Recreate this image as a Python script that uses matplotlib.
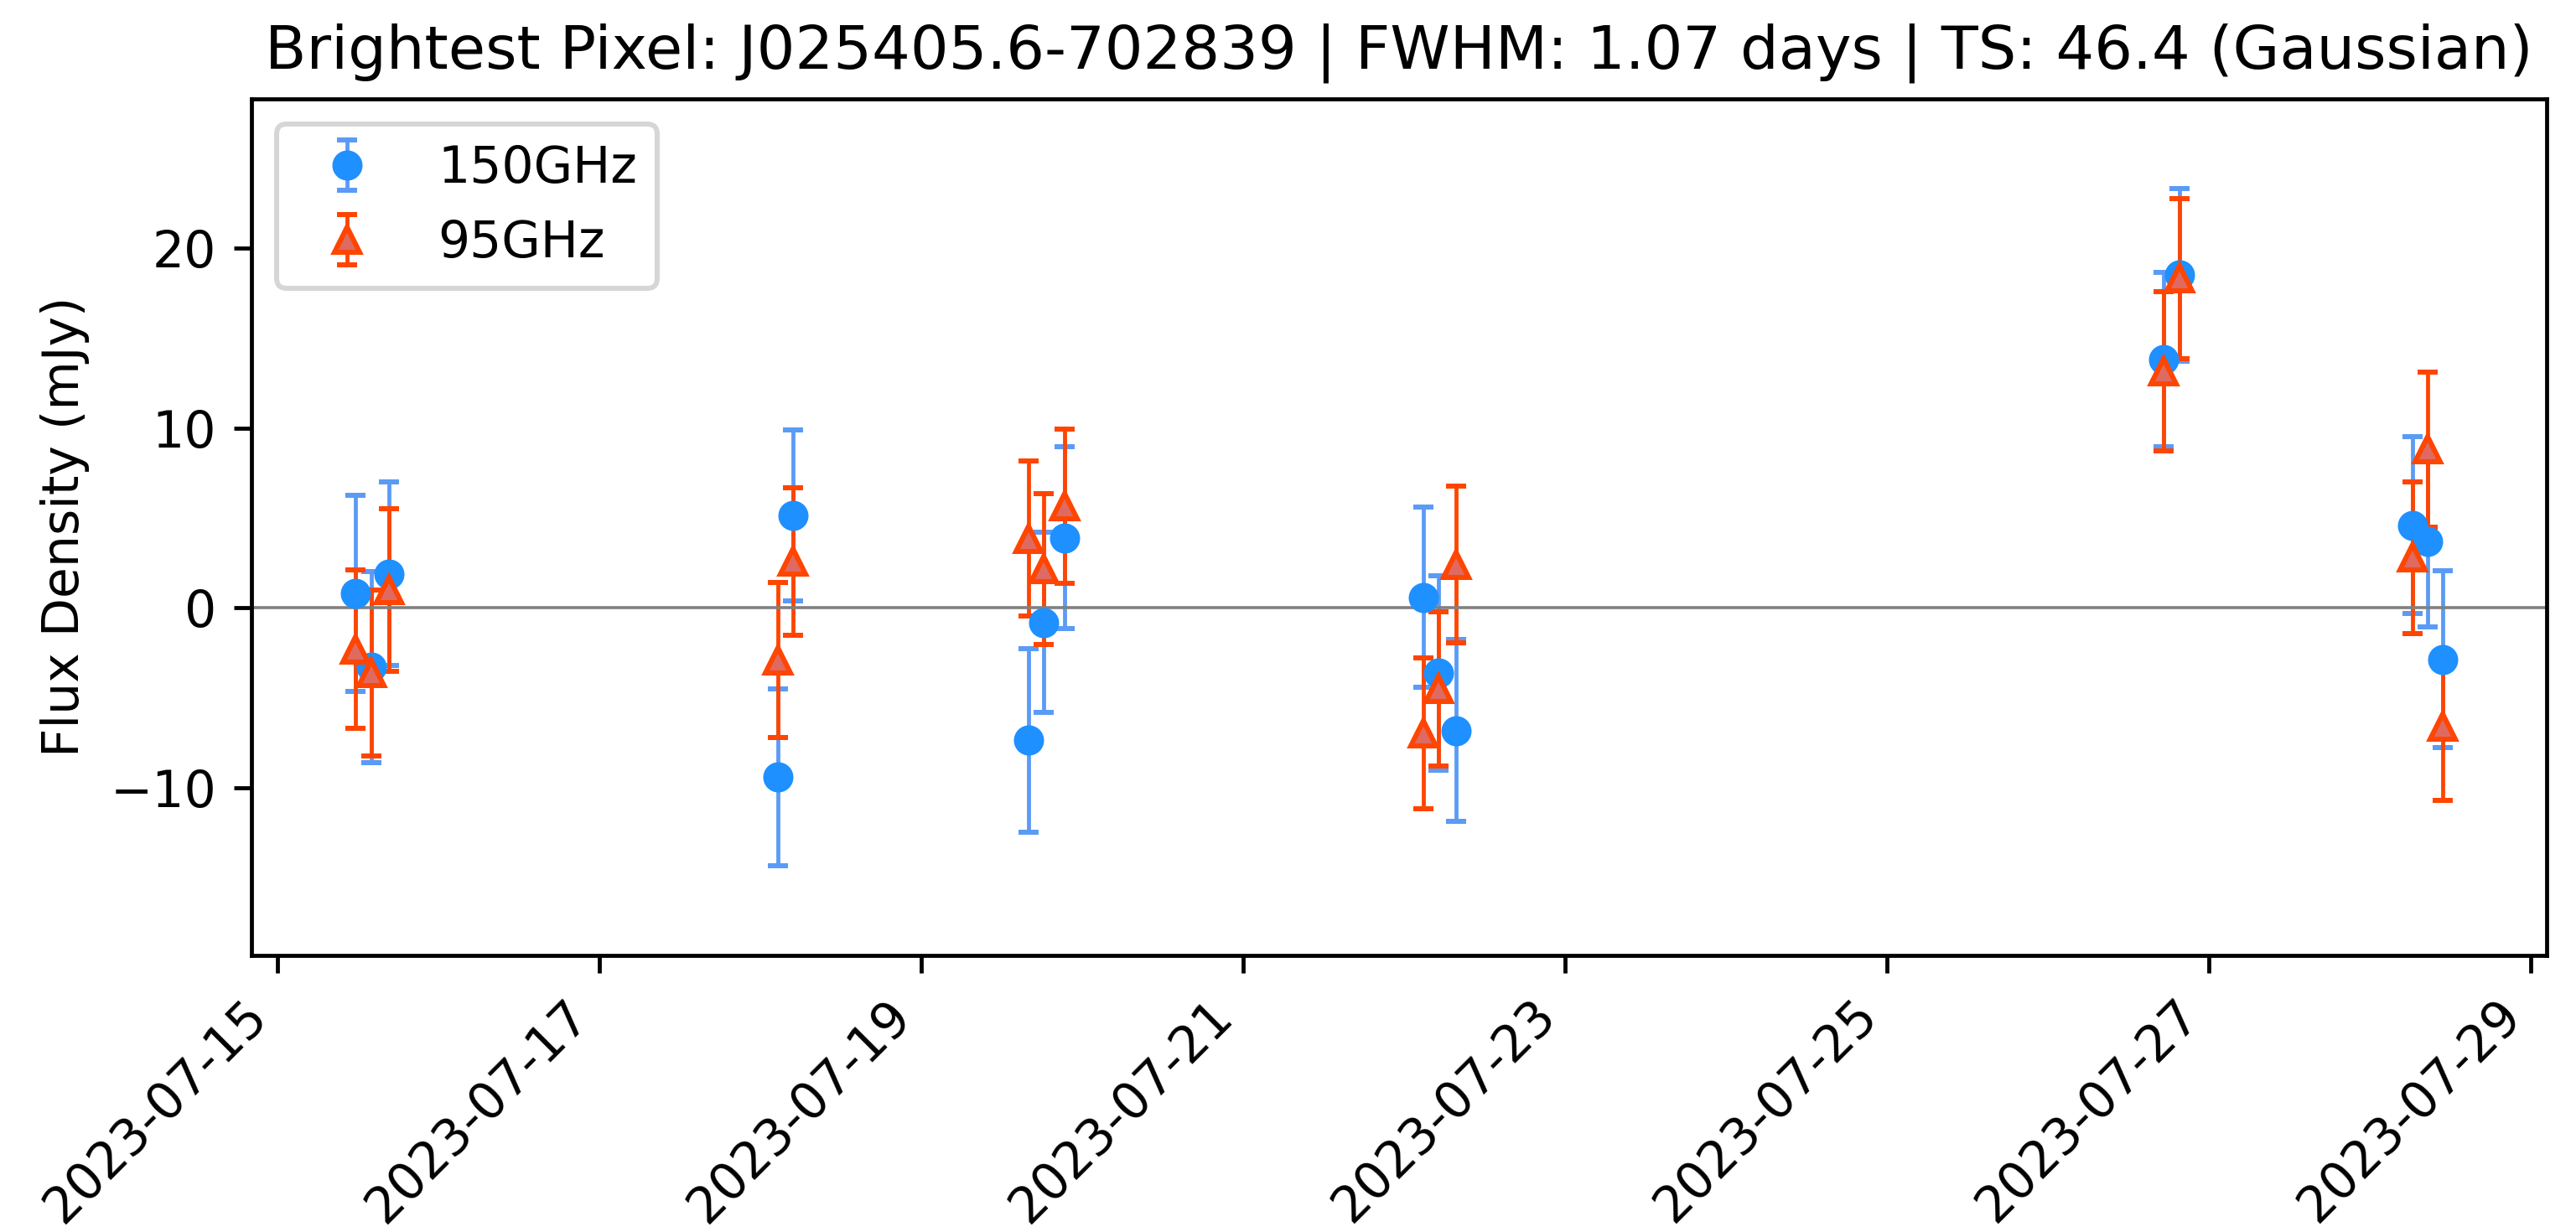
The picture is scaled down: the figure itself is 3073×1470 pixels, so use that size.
import matplotlib
matplotlib.use("Agg")
import matplotlib.pyplot as plt
import matplotlib.dates as mdates
import numpy as np
import pandas as pd

# observation epochs (UTC), shared by both bands
obs_times = [
    "2023-07-15 11:43", "2023-07-15 14:01", "2023-07-15 16:38",
    "2023-07-18 02:37", "2023-07-18 04:52",
    "2023-07-19 16:00", "2023-07-19 18:17", "2023-07-19 21:20",
    "2023-07-22 02:50", "2023-07-22 05:08", "2023-07-22 07:44",
    "2023-07-26 17:15", "2023-07-26 19:35",
    "2023-07-28 06:17", "2023-07-28 08:36", "2023-07-28 10:47",
]

flux_150 = [0.8, -3.3, 1.9, -9.4, 5.15, -7.35, -0.8, 3.9,
            0.6, -3.6, -6.8, 13.8, 18.5, 4.6, 3.7, -2.85]
err_150 = [5.45, 5.3, 5.1, 4.9, 4.75, 5.1, 5.0, 5.05,
           5.0, 5.4, 5.05, 4.85, 4.8, 4.9, 4.75, 4.9]

flux_95 = [-2.3, -3.6, 1.0, -2.9, 2.6, 3.85, 2.15, 5.65,
           -6.95, -4.5, 2.4, 13.15, 18.3, 2.8, 8.8, -6.6]
err_95 = [4.4, 4.6, 4.5, 4.3, 4.1, 4.3, 4.2, 4.3,
          4.2, 4.3, 4.35, 4.4, 4.45, 4.2, 4.3, 4.1]

source = "J025405.6-702839"
fwhm_days = 1.07
ts_value = 46.4

t = pd.to_datetime(obs_times)

dpi = 432
fig = plt.figure(figsize=(3073 / dpi, 1470 / dpi), dpi=dpi)
ax = fig.add_axes([0.0976, 0.2245, 0.891, 0.6955])

ax.errorbar(t, flux_150, yerr=err_150, fmt="o", color="#1e90ff",
            ecolor="#5b9bf5", elinewidth=0.8, capsize=2, markersize=5,
            label="150GHz")
ax.errorbar(t, flux_95, yerr=err_95, fmt="^", color="orangered",
            mfc="#de6a62", mec="orangered", mew=1, ecolor="orangered",
            elinewidth=0.8, capsize=2, markersize=5, label="95GHz")
ax.axhline(0, color="gray", lw=0.6)

lo = min(np.min(np.array(flux_150) - err_150), np.min(np.array(flux_95) - err_95))
hi = max(np.max(np.array(flux_150) + err_150), np.max(np.array(flux_95) + err_95))
ax.set_ylim(lo - 5, hi + 5)

# ticks on odd days of the month
ax.xaxis.set_major_locator(mdates.DayLocator(bymonthday=range(1, 32, 2)))
ax.xaxis.set_major_formatter(mdates.DateFormatter("%Y-%m-%d"))
plt.setp(ax.get_xticklabels(), rotation=45, ha="right")

ax.set_ylabel("Flux Density (mJy)")
ax.set_title(f"Brightest Pixel: {source} | FWHM: {fwhm_days:.2f} days | "
             f"TS: {ts_value:.1f} (Gaussian)")
ax.legend(loc="upper left")

fig.savefig("out.png", dpi=dpi)
